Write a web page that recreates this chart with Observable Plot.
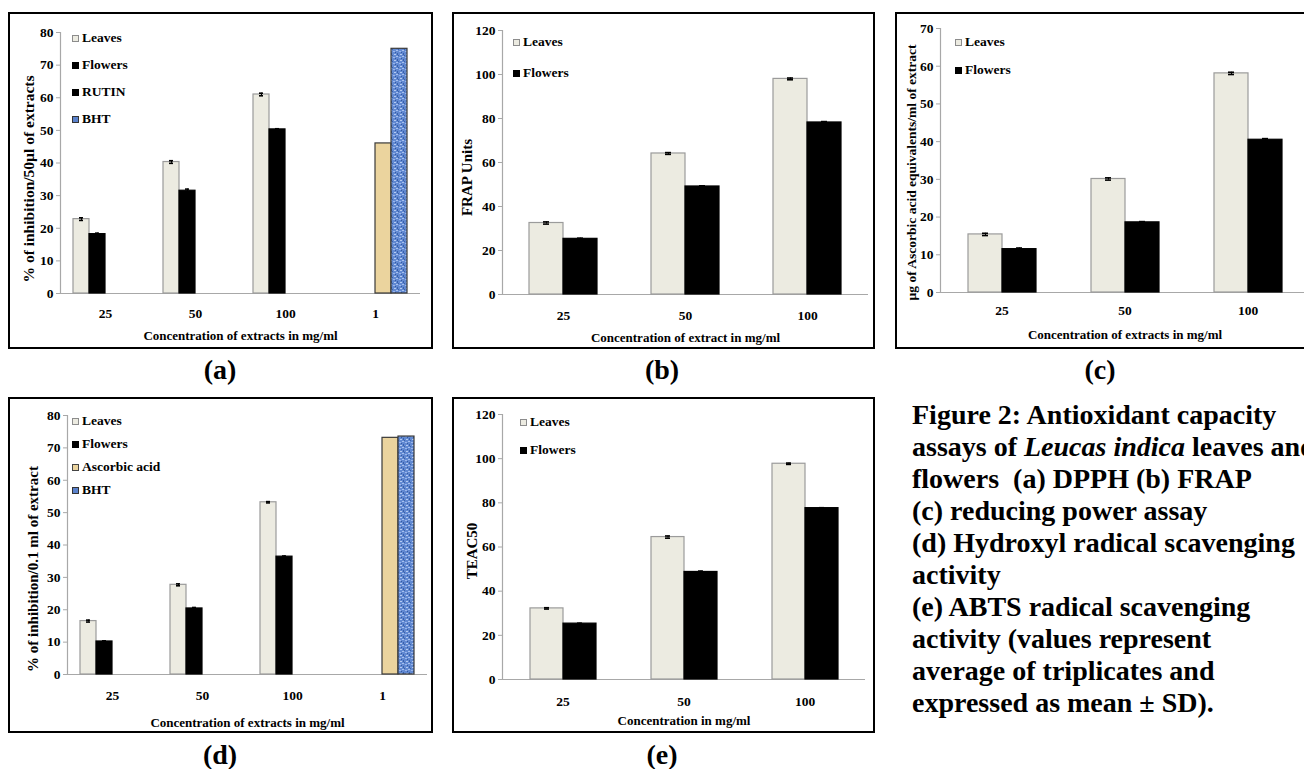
<!DOCTYPE html>
<html><head><meta charset="utf-8">
<script src="https://cdn.jsdelivr.net/npm/d3@7"></script>
<script src="https://cdn.jsdelivr.net/npm/@observablehq/plot@0.6"></script>
<style>
html,body{margin:0;padding:0;background:#fff;overflow:hidden;width:1304px;height:769px;}
.panel{position:absolute;box-sizing:border-box;border:2px solid #000;background:#fff;}
.panel svg{display:block;}
.legend{position:absolute;font-family:"Liberation Serif",serif;font-weight:bold;font-size:13.5px;color:#000;}
.legend .item{position:absolute;left:0;white-space:nowrap;display:flex;align-items:center;transform:translateY(-50%);line-height:14px;}
.legend .sw{width:5px;height:5px;border:1px solid #333;margin-right:3px;}
.plabel{position:absolute;font-family:"Liberation Serif",serif;font-weight:bold;font-size:28px;transform:translate(-50%,-50%);}
.caption{position:absolute;left:912px;top:399px;font-family:"Liberation Serif",serif;font-weight:bold;font-size:28px;line-height:32px;white-space:nowrap;color:#000;}
</style></head><body>
<svg width="0" height="0" style="position:absolute"><defs>
<pattern id="bhtPat" width="6" height="6" patternUnits="userSpaceOnUse">
<rect width="6" height="6" fill="#6189d2"/>
<rect x="0" y="0" width="2" height="1" fill="#a7c0ee"/>
<rect x="3" y="1" width="2" height="1" fill="#9ab5ea"/>
<rect x="1" y="3" width="1" height="2" fill="#3a60aa"/>
<rect x="4" y="4" width="2" height="1" fill="#b5caf0"/>
<rect x="2" y="5" width="1" height="1" fill="#3d62a8"/>
<rect x="5" y="2" width="1" height="1" fill="#36599e"/>
</pattern>
</defs></svg>
<div id="root"></div>
<script>
// ---------- DATA ----------
// (a) DPPH
const dpphCats = ["25", "50", "100", "1"];
const dpphLeaves = [22.8, 40.3, 61.0, null];
const dpphLeavesSD = [0.4, 0.4, 0.4, null];
const dpphFlowers = [18.2, 31.5, 50.3, null];
const dpphFlowersSD = [0.3, 0.5, 0.2, null];
const dpphRutin = [null, null, null, 46.0];
const dpphBHT = [null, null, null, 75.0];
const dpphTicks = [0, 10, 20, 30, 40, 50, 60, 70, 80];

// (b) FRAP
const frapCats = ["25", "50", "100"];
const frapLeaves = [32.5, 64.1, 98.0];
const frapLeavesSD = [0.5, 0.4, 0.4];
const frapFlowers = [25.3, 49.1, 78.2];
const frapFlowersSD = [0.3, 0.3, 0.4];
const frapTicks = [0, 20, 40, 60, 80, 100, 120];

// (c) reducing power
const rpCats = ["25", "50", "100"];
const rpLeaves = [15.4, 30.1, 58.1];
const rpLeavesSD = [0.3, 0.3, 0.3];
const rpFlowers = [11.5, 18.6, 40.5];
const rpFlowersSD = [0.3, 0.2, 0.3];
const rpTicks = [0, 10, 20, 30, 40, 50, 60, 70];

// (d) hydroxyl radical
const ohCats = ["25", "50", "100", "1"];
const ohLeaves = [16.5, 27.7, 53.2, null];
const ohLeavesSD = [0.3, 0.3, 0.2, null];
const ohFlowers = [10.2, 20.4, 36.4, null];
const ohFlowersSD = [0.2, 0.3, 0.2, null];
const ohAscorbic = [null, null, null, 73.1];
const ohBHT = [null, null, null, 73.5];
const ohTicks = [0, 10, 20, 30, 40, 50, 60, 70, 80];

// (e) ABTS
const abtsCats = ["25", "50", "100"];
const abtsLeaves = [32.2, 64.5, 97.7];
const abtsLeavesSD = [0.3, 0.5, 0.3];
const abtsFlowers = [25.3, 48.7, 77.6];
const abtsFlowersSD = [0.2, 0.4, 0.2];
const abtsTicks = [0, 20, 40, 60, 80, 100, 120];

// ---------- STYLES ----------
const STY = {
  Leaves: {fill: "#ecebe1", stroke: "#9b9b9b", sw: "#ecebe1", swStroke: "#8c8c8c"},
  Flowers: {fill: "#000000", stroke: "#000000", sw: "#000", swStroke: "#000"},
  RUTIN: {fill: "#ebd49e", stroke: "#3a3a3a", sw: "#000", swStroke: "#000"},
  "Ascorbic acid": {fill: "#ebd49e", stroke: "#3a3a3a", sw: "#ebd49e", swStroke: "#444"},
  BHT: {fill: "url(#bhtPat)", stroke: "#3a3a3a", sw: "#5b82cc", swStroke: "#333"}
};

const root = document.getElementById("root");

function makePanel(cfg) {
  const rows = [];
  cfg.series.forEach(s => s.values.forEach((v, i) => {
    if (v != null) rows.push({cat: cfg.cats[i], series: s.name, value: v, sd: s.sd ? s.sd[i] : null});
  }));
  const err = rows.filter(r => r.sd != null);
  const names = cfg.series.map(s => s.name);
  const innerW = cfg.w - 4, innerH = cfg.h - 4;
  const marks = [
    Plot.ruleY([0], {stroke: "#a8a8a8", strokeWidth: 1.2}),
    Plot.frame({anchor: "left", facetAnchor: "left", stroke: "#a8a8a8", strokeWidth: 1.2}),
    ...cfg.series.map(s => Plot.barY(rows.filter(r => r.series === s.name), {
      fx: "cat", x: "series", y: "value",
      fill: STY[s.name].fill, stroke: STY[s.name].stroke, strokeWidth: 1.2
    })),
    Plot.ruleX(err, {fx: "cat", x: "series", y1: r => r.value - r.sd, y2: r => r.value + r.sd, stroke: "#000", strokeWidth: 1}),
    Plot.tickY(err, {fx: "cat", x: "series", y: r => r.value + r.sd, stroke: "#000", strokeWidth: 1.6, inset: cfg.capInset}),
    Plot.tickY(err, {fx: "cat", x: "series", y: r => r.value - r.sd, stroke: "#000", strokeWidth: 1.6, inset: cfg.capInset}),
    Plot.axisY({ticks: cfg.yTicks, tickSize: 4, tickPadding: 3, stroke: "#a8a8a8", tickFormat: d => String(d), label: null, fontSize: 13.5}),
    Plot.text([cfg.yLabel], {facetAnchor: "left", frameAnchor: "left", textAnchor: "middle", lineAnchor: "middle", rotate: -90, dx: cfg.yTitleDx, dy: cfg.yTitleDy, fontSize: cfg.yLabelSize, text: d => d}),
    Plot.axisFx({anchor: "bottom", tickSize: 0, tickPadding: cfg.fxPad, label: null, fontSize: 13.5}),
    Plot.axisFx({anchor: "bottom", ticks: [], label: cfg.xLabel, labelArrow: "none", labelAnchor: "center", labelOffset: cfg.xLabelOffset, fontSize: 13})
  ];
  const chart = Plot.plot({
    width: innerW, height: innerH,
    marginLeft: cfg.mL, marginRight: cfg.mR, marginTop: cfg.mT, marginBottom: cfg.mB,
    fx: {domain: cfg.cats, paddingInner: 0, paddingOuter: 0},
    x: {domain: names, paddingInner: 0, paddingOuter: cfg.pad, axis: null},
    y: {domain: cfg.yDomain},
    style: {fontFamily: '"Liberation Serif", serif', fontWeight: "bold", fontSize: "13px", color: "#000", background: "transparent", overflow: "visible"},
    marks
  });
  const div = document.createElement("div");
  div.className = "panel";
  div.style.left = cfg.left + "px"; div.style.top = cfg.top + "px";
  div.style.width = cfg.w + "px"; div.style.height = cfg.h + "px";
  div.appendChild(chart);
  const lg = document.createElement("div");
  lg.className = "legend";
  lg.style.left = cfg.legend.left + "px"; lg.style.top = cfg.legend.top + "px";
  cfg.legendNames.forEach((n, i) => {
    const it = document.createElement("div");
    it.className = "item";
    it.style.top = (i * cfg.legend.gap) + "px";
    const sw = document.createElement("span");
    sw.className = "sw";
    sw.style.background = STY[n].sw; sw.style.borderColor = STY[n].swStroke;
    it.appendChild(sw);
    it.appendChild(document.createTextNode(n));
    lg.appendChild(it);
  });
  div.appendChild(lg);
  root.appendChild(div);
  const lab = document.createElement("div");
  lab.className = "plabel";
  lab.textContent = cfg.tag;
  lab.style.left = cfg.tagX + "px"; lab.style.top = cfg.tagY + "px";
  root.appendChild(lab);
}

makePanel({
  tag: "(a)", tagX: 220, tagY: 370,
  left: 8, top: 12, w: 425, h: 337, mL: 48, mR: 10, mT: 18, mB: 54, pad: 0.72, capInset: 6,
  cats: dpphCats,
  series: [
    {name: "Leaves", values: dpphLeaves, sd: dpphLeavesSD},
    {name: "Flowers", values: dpphFlowers, sd: dpphFlowersSD},
    {name: "RUTIN", values: dpphRutin},
    {name: "BHT", values: dpphBHT}
  ],
  legendNames: ["Leaves", "Flowers", "RUTIN", "BHT"],
  legend: {left: 62, top: 24, gap: 27},
  yDomain: [0, 80], yTicks: dpphTicks,
  yLabel: "% of inhibition/50µl of extracts", yLabelSize: 15.5, yTitleDx: -31, yTitleDy: 16,
  xLabel: "Concentration of extracts in mg/ml", xLabelOffset: 46, fxPad: 15
});

makePanel({
  tag: "(b)", tagX: 662, tagY: 370,
  left: 452, top: 12, w: 423, h: 337, mL: 48, mR: 5, mT: 16, mB: 53, pad: 0.79, capInset: 14,
  cats: frapCats,
  series: [
    {name: "Leaves", values: frapLeaves, sd: frapLeavesSD},
    {name: "Flowers", values: frapFlowers, sd: frapFlowersSD}
  ],
  legendNames: ["Leaves", "Flowers"],
  legend: {left: 59, top: 28, gap: 31},
  yDomain: [0, 120], yTicks: frapTicks,
  yLabel: "FRAP Units", yLabelSize: 15, yTitleDx: -35, yTitleDy: 15,
  xLabel: "Concentration of extract in mg/ml", xLabelOffset: 47, fxPad: 16
});

makePanel({
  tag: "(c)", tagX: 1100, tagY: 370,
  left: 895, top: 12, w: 425, h: 337, mL: 43, mR: 9, mT: 14, mB: 55, pad: 0.76, capInset: 14,
  cats: rpCats,
  series: [
    {name: "Leaves", values: rpLeaves, sd: rpLeavesSD},
    {name: "Flowers", values: rpFlowers, sd: rpFlowersSD}
  ],
  legendNames: ["Leaves", "Flowers"],
  legend: {left: 58, top: 28, gap: 28},
  yDomain: [0, 70], yTicks: rpTicks,
  yLabel: "µg of Ascorbic acid equivalents/ml of extract", yLabelSize: 13.5, yTitleDx: -29, yTitleDy: 12,
  xLabel: "Concentration of extracts in mg/ml", xLabelOffset: 46, fxPad: 13
});

makePanel({
  tag: "(d)", tagX: 220, tagY: 755,
  left: 8, top: 397, w: 425, h: 336, mL: 55, mR: 3, mT: 16, mB: 57, pad: 0.67, capInset: 6,
  cats: ohCats,
  series: [
    {name: "Leaves", values: ohLeaves, sd: ohLeavesSD},
    {name: "Flowers", values: ohFlowers, sd: ohFlowersSD},
    {name: "Ascorbic acid", values: ohAscorbic},
    {name: "BHT", values: ohBHT}
  ],
  legendNames: ["Leaves", "Flowers", "Ascorbic acid", "BHT"],
  legend: {left: 62, top: 22, gap: 23},
  yDomain: [0, 80], yTicks: ohTicks,
  yLabel: "% of inhibition/0.1 ml of extract", yLabelSize: 15, yTitleDx: -34, yTitleDy: 24,
  xLabel: "Concentration of extracts in mg/ml", xLabelOffset: 52, fxPad: 16
});

makePanel({
  tag: "(e)", tagX: 662, tagY: 755,
  left: 452, top: 397, w: 423, h: 336, mL: 48, mR: 8, mT: 15, mB: 52, pad: 0.78, capInset: 14,
  cats: abtsCats,
  series: [
    {name: "Leaves", values: abtsLeaves, sd: abtsLeavesSD},
    {name: "Flowers", values: abtsFlowers, sd: abtsFlowersSD}
  ],
  legendNames: ["Leaves", "Flowers"],
  legend: {left: 66, top: 23, gap: 28},
  yDomain: [0, 120], yTicks: abtsTicks,
  yLabel: "TEAC50", yLabelSize: 15, yTitleDx: -30, yTitleDy: 4,
  xLabel: "Concentration in mg/ml", xLabelOffset: 45, fxPad: 17
});

// caption
const cap = document.createElement("div");
cap.className = "caption";
cap.innerHTML = "Figure 2: Antioxidant capacity<br>assays of <i>Leucas indica</i> leaves and<br>flowers&nbsp; (a) DPPH (b) FRAP<br>(c) reducing power assay<br>(d) Hydroxyl radical scavenging<br>activity<br>(e) ABTS radical scavenging<br>activity (values represent<br>average of triplicates and<br>expressed as mean ± SD).";
root.appendChild(cap);
</script>
</body></html>
